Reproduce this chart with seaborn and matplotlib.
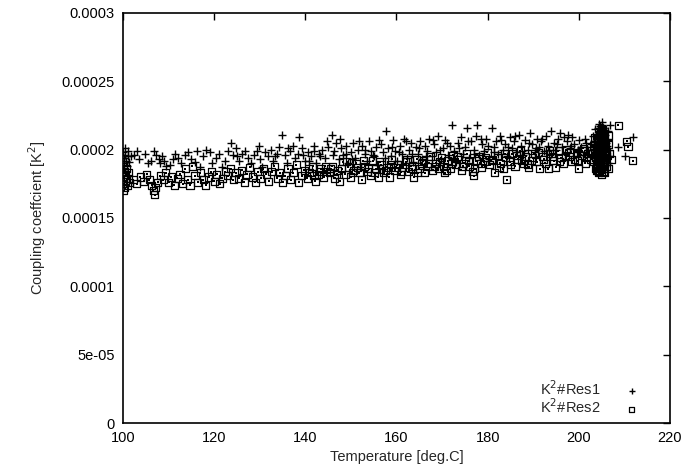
import numpy as np
import pandas as pd
import matplotlib
matplotlib.use("Agg")
import matplotlib.pyplot as plt
import seaborn as sns

# =============================================================================
# Data (temperature [deg.C], K^2 in units of 1e-6)
# =============================================================================
res1_pts = [
    (100.1,198),(100.2,194),(100.3,190),(100.2,186),(100.4,201),(100.5,196),(100.6,192),(100.8,188),
    (101.0,195),(101.2,199),(100.4,184),(101.4,191),
    (102.5,196),(103.5,193),(104.8,197),(105.5,190),(106.2,192),(106.8,199),(107.3,196),(107.8,193),
    (108.2,190),(108.6,195),(109.5,188),(110.3,189),(111.5,197),(112.0,194),(112.8,190),(113.5,196),
    (114.2,198),(115.0,193),(115.8,191),(116.3,199),(117.0,187),(117.5,195),(118.2,200),(119.0,198),
    (119.6,190),(120.3,194),(121.0,197),(121.8,187),(122.4,192),
    (101.7,195),(103.0,199),(109.0,192),(111.0,193),(125.0,195),(129.8,203),(133.4,195),(136.3,201),
    (139.6,196),
    (123.0,199),(123.6,205),(124.2,196),(124.8,201),(125.5,192),(126.0,197),(126.8,199),(127.4,194),
    (128.0,190),(128.7,196),(129.3,199),(130.0,193),(130.6,187),(131.2,198),(131.8,195),(132.5,200),
    (133.0,192),(133.8,197),(134.3,202),(134.9,211),(135.5,196),(136.0,190),(136.6,199),(137.2,203),
    (137.8,194),(138.4,197),(138.7,209),(139.3,201),(139.9,192),(140.5,198),(141.2,195),(141.8,203),
    (142.4,190),(143.0,197),(143.6,200),(144.3,194),(145.0,202),
    (145.8,211),(146.3,199),(146.8,205),(147.3,193),(147.8,201),(148.3,196),(148.9,203),(149.4,190),
    (150.0,198),(150.5,205),(151.0,194),(151.5,200),(152.0,187),(152.5,203),(153.0,197),(153.5,192),
    (154.0,206),(154.5,199),(155.0,195),(155.5,202),(156.0,189),(156.5,204),(157.0,198),(157.7,214),
    (158.2,201),(158.7,195),(159.2,207),(159.7,199),(160.2,192),(160.7,203),(161.2,197),(161.7,208),
    (162.2,194),(162.7,200),(163.2,205),(163.7,191),(164.2,202),(164.7,197),(165.2,206),(165.7,193),
    (166.2,203),(166.7,199),(167.2,208),(167.7,195),
    (168.2,204),(168.7,198),(169.2,210),(169.7,193),(170.2,201),(170.7,207),(171.2,196),(171.7,203),
    (172.1,218),(172.6,199),(173.1,191),(173.6,205),(174.1,209),(174.6,197),(175.1,202),(175.4,216),
    (175.9,194),(176.4,206),(176.9,200),(177.4,210),(177.7,218),(178.2,196),(178.7,204),(179.2,199),
    (179.7,208),(180.2,193),(180.9,216),(181.3,202),(181.8,206),(182.3,197),(182.8,210),(183.3,200),
    (183.8,204),(184.3,195),(184.8,209),(185.3,201),(185.8,206),(186.3,198),(186.8,211),(187.3,203),
    (187.8,196),(188.3,207),(188.8,200),(189.3,212),(189.8,204),(190.3,198),(190.8,208),(191.3,202),
    (191.8,206),(192.3,199),(192.8,210),(193.3,203),(193.8,197),(194.0,214),(194.5,205),(195.0,200),
    (195.5,208),(195.9,212),(196.4,202),(196.9,197),(197.4,206),(197.6,211),(198.1,201),(198.5,209),
    (199.0,204),(199.5,198),(200.0,207),(200.5,202),(201.0,196),(201.5,205),(202.0,200),
    (140.8,192),(142.0,199),(143.3,195),(144.7,206),(146.0,196),(147.5,208),(149.0,197),(150.2,193),
    (151.7,206),(153.2,200),(154.8,196),(156.2,207),(157.4,194),(159.0,202),(160.5,198),(162.0,206),
    (163.5,197),(165.0,201),(166.5,195),(168.0,207),(169.5,200),(171.0,205),(172.3,194),(173.8,201),
    (175.6,206),(177.0,197),(178.5,208),(180.0,203),(181.5,198),(183.0,207),(184.5,202),(186.0,210),
    (187.5,199),(189.0,205),(190.5,201),(192.0,208),(193.5,200),(195.2,204),(196.7,209),(198.3,203),
    (199.8,200),(201.3,208),(202.6,204),
    # cluster near 205 deg.C
    (204.0,195),(204.2,200),(204.4,205),(204.6,210),(204.8,214),(205.0,218),(205.2,212),(205.4,207),
    (205.6,202),(205.8,197),(205.5,192),(205.2,188),(204.9,191),(204.6,196),(204.3,203),(204.1,208),
    (204.4,213),(204.7,217),(205.1,220),(205.4,216),(205.7,211),(205.9,205),(206.0,199),(204.5,188),
    (205.0,202),(204.8,206),(205.3,196),(204.2,192),(205.6,190),(204.9,199),
    (203.6,198),(203.8,204),(204.0,211),(204.3,216),(204.5,219),(204.7,201),(204.9,209),(205.1,194),
    (205.3,203),(205.5,199),(205.7,207),(205.9,214),(206.1,194),(206.2,203),(204.2,197),(204.6,214),
    (205.0,190),(205.2,216),(205.4,211),(205.8,201),(204.8,186),(205.1,207),(204.4,199),(204.0,202),
    (205.6,209),
    (203.1,200),(203.3,206),(203.4,194),(203.2,210),(206.5,208),(206.7,200),(206.9,195),(206.4,214),
    (203.5,215),(206.3,190),
    (206.8,218),(208.7,202),(210.1,195),(211.8,209),
]

res2_pts = [
    (100.1,175),(100.2,180),(100.3,184),(100.4,172),(100.5,177),(100.6,182),(100.8,186),(101.0,174),
    (101.1,179),(101.3,183),(100.2,170),(101.5,176),
    (102.3,178),(103.0,175),(103.8,180),(104.5,177),(105.2,182),(105.8,178),(106.3,174),(106.6,170),
    (107.0,167),(107.2,172),(107.6,176),(108.2,181),(108.8,178),(109.4,183),(110.0,176),(110.6,180),
    (111.3,174),(111.9,179),(112.5,182),(113.1,175),(113.7,186),(114.2,178),(114.7,174),(115.2,188),
    (115.8,181),(116.4,176),(117.0,183),(117.6,178),(118.2,174),(118.8,180),(119.4,184),(120.0,177),
    (120.6,182),(121.2,175),(121.8,179),(122.4,184),
    (123.0,181),(123.6,186),(124.2,178),(124.8,183),(125.4,179),(126.0,185),(126.6,176),(127.2,182),
    (127.8,187),(128.4,180),(129.0,176),(129.6,184),(130.2,179),(130.8,186),(131.4,182),(132.0,177),
    (132.6,184),(133.2,188),(133.8,179),(134.4,183),(135.0,176),(135.6,181),(136.2,186),(136.8,178),
    (137.4,183),(138.0,189),(138.6,176),(139.2,181),(139.8,185),(140.4,179),(141.0,183),(141.6,188),
    (142.2,177),(142.8,182),(143.4,186),(144.0,180),(144.6,184),
    (145.3,183),(145.9,188),(146.5,179),(147.1,185),(147.6,177),(148.2,191),(148.8,182),(149.4,187),
    (150.0,180),(150.6,185),(151.2,190),(151.8,183),(152.4,178),(153.0,188),(153.6,184),(154.2,181),
    (154.8,192),(155.4,186),(156.0,180),(156.6,189),(157.2,183),(157.8,187),(158.4,180),(159.0,193),
    (159.6,185),(160.2,189),(160.8,182),(161.4,187),(162.0,191),(162.6,184),(163.2,188),(163.8,180),
    (164.4,193),(165.0,186),(165.6,190),(166.2,183),(166.8,188),(167.4,195),(168.0,185),
    (168.6,190),(169.2,186),(169.8,194),(170.4,188),(170.6,183),(171.2,192),(171.8,186),(172.4,196),
    (173.0,189),(173.6,193),(174.2,185),(174.8,190),(175.4,197),(176.0,188),(176.6,184),(176.9,181),
    (177.5,192),(178.1,195),(178.7,187),(179.3,191),(179.9,198),(180.5,189),(181.1,193),(181.6,183),
    (182.2,196),(182.8,190),(183.4,186),(184.0,194),(184.2,178),(184.8,191),(185.4,197),(186.0,188),
    (186.6,193),(187.2,199),(187.8,190),(188.4,195),(189.0,187),(189.6,192),(190.2,197),(190.8,191),
    (191.4,186),
    (192.0,195),(192.6,190),(193.3,186),(193.9,197),(194.5,192),(194.9,187),(195.5,199),(196.1,194),
    (196.7,190),(197.3,200),(197.9,195),(198.5,191),(199.0,193),(199.4,198),(199.9,186),(200.5,196),
    (201.0,201),(201.4,190),(202.0,197),(202.6,193),
    (140.7,186),(141.9,181),(143.1,184),(144.4,188),(145.6,186),(146.9,182),(148.0,186),(149.1,191),
    (150.3,183),(151.5,187),(152.7,192),(153.9,186),(155.1,183),(156.3,191),(157.5,185),(158.7,189),
    (159.9,187),(161.1,184),(162.3,193),(163.5,186),(164.7,183),(165.9,192),(167.1,190),(168.3,188),
    (169.5,191),(170.9,185),(172.1,190),(173.3,195),(174.5,188),(175.7,192),(177.2,186),(178.4,190),
    (179.6,194),(180.8,192),(182.5,187),(183.7,197),(185.1,189),(186.3,196),(187.5,192),(188.7,189),
    (189.9,194),(191.1,198),(192.3,193),(193.6,199),(194.2,195),(195.8,191),(197.0,196),(198.2,198),
    (199.7,192),(200.8,199),(201.7,194),(202.3,199),
    # cluster near 205 deg.C
    (203.8,190),(204.0,185),(204.2,194),(204.4,199),(204.6,204),(204.8,208),(205.0,212),(205.2,207),
    (205.4,202),(205.6,197),(205.8,193),(206.0,188),(205.3,184),(204.9,182),(204.5,186),(204.1,198),
    (204.3,203),(204.7,209),(205.1,215),(205.5,211),(205.9,204),(206.1,198),(204.8,193),(205.2,189),
    (205.0,200),(204.6,192),(205.4,194),(204.2,189),(205.7,186),(204.9,205),
    (203.7,194),(203.9,199),(204.1,204),(204.3,208),(204.5,211),(204.7,213),(204.9,214),(205.1,210),
    (205.3,212),(205.5,206),(205.7,201),(205.9,196),(206.1,191),(205.4,188),(205.0,186),(204.6,184),
    (204.2,185),(203.9,187),(204.4,195),(205.6,190),(204.8,200),(205.2,196),(205.0,205),(204.6,197),
    (205.8,199),
    (203.0,197),(203.2,203),(203.3,191),(203.5,209),(206.6,204),(206.8,197),(207.1,193),(206.5,210),
    (206.4,186),(203.6,186),(204.4,183),(205.6,183),
    (208.7,218),(210.5,206),(210.8,202),(211.8,192),
]

x_ticks = [100, 120, 140, 160, 180, 200, 220]
y_ticks = [0, 5e-05, 0.0001, 0.00015, 0.0002, 0.00025, 0.0003]
y_tick_labels = ['0', '5e-05', '0.0001', '0.00015', '0.0002', '0.00025', '0.0003']

# =============================================================================
# Build dataframe
# =============================================================================
frames = []
for name, pts in [('K$^2$#Res1', res1_pts), ('K$^2$#Res2', res2_pts)]:
    t, k = zip(*pts)
    frames.append(pd.DataFrame({'temp': t, 'k2': np.array(k) * 1e-6, 'series': name}))
df = pd.concat(frames, ignore_index=True)

# =============================================================================
# Plot
# =============================================================================
sns.set_style('white')
plt.rcParams['font.family'] = ['Liberation Sans', 'DejaVu Sans']
plt.rcParams['font.size'] = 10.5

fig = plt.figure(figsize=(7, 4.72), dpi=100)
ax = fig.add_axes([0.1757, 0.1038, 0.7814, 0.8687])

d1 = df[df['series'] == 'K$^2$#Res1']
d2 = df[df['series'] == 'K$^2$#Res2']

sns.scatterplot(data=d2, x='temp', y='k2', marker='s', s=26, facecolors='none',
                edgecolor='black', linewidth=0.9, label='K$^2$#Res2', ax=ax, zorder=2)
sns.scatterplot(data=d2, x='temp', y='k2', marker='s', s=1.2, color='black',
                linewidth=0, ax=ax, zorder=2, legend=False)
sns.scatterplot(data=d1, x='temp', y='k2', marker='+', s=30, color='black',
                linewidth=1.0, label='K$^2$#Res1', ax=ax, zorder=3)

ax.set_xlim(100, 220)
ax.set_ylim(0, 0.0003)
ax.set_xticks(x_ticks)
ax.set_yticks(y_ticks)
ax.set_yticklabels(y_tick_labels)
ax.tick_params(direction='in', length=5, width=1, top=True, right=True,
               labelsize=10.5, pad=6, colors='black')
for sp in ax.spines.values():
    sp.set_visible(True)
    sp.set_color('black')
    sp.set_linewidth(1.2)

ax.set_xlabel('Temperature [deg.C]', fontsize=10.5, labelpad=3)
ax.set_ylabel('Coupling coeffcient [K$^2$]', fontsize=10.5, labelpad=10)

handles, labels = ax.get_legend_handles_labels()
order = [labels.index('K$^2$#Res1'), labels.index('K$^2$#Res2')]
ax.legend([handles[i] for i in order], [labels[i] for i in order],
          loc='lower right', bbox_to_anchor=(0.959, -0.005), frameon=False,
          markerfirst=False, fontsize=10.5, handletextpad=1.6, borderaxespad=0.2,
          labelspacing=0.0, handlelength=1.0, markerscale=0.75)

plt.savefig('out.png', dpi=100)
